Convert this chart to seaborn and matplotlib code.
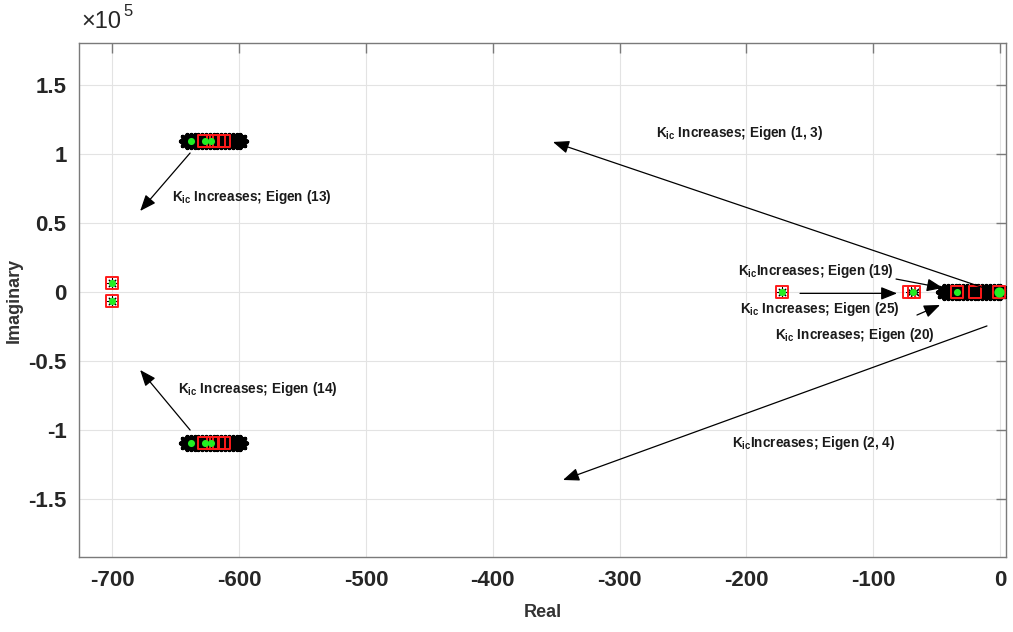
import matplotlib
matplotlib.use("Agg")
import matplotlib.pyplot as plt
import seaborn as sns
import pandas as pd

# ---- eigenvalue loci (real part, imaginary part) ----
# dense locus traces drawn as heavy asterisks
band_real = [-641, -638, -635, -632, -629, -626, -623, -620, -617, -614, -611, -608, -605, -602, -599,
             -641, -638, -635, -632, -629, -626, -623, -620, -617, -614, -611, -608, -605, -602, -599,
             -44, -41, -38, -35, -32, -29, -26, -23, -20, -17, -14, -11, -8, -5, -2, 0]
band_imag = [109400] * 15 + [-109400] * 15 + [0] * 16

# isolated eigenvalues (light asterisks)
single_real = [-700, -700, -172, -70, -67]
single_imag = [6200, -6200, 0, 0, 0]

# highlighted eigenvalues (red squares)
square_real = [-628, -620.5, -615.5, -611.5, -628, -620.5, -615.5, -611.5,
               -700, -700, -172, -71.5, -67.5, -34, -19.5, -1.2]
square_imag = [109400, 109400, 109400, 109400, -109400, -109400, -109400, -109400,
               6200, -6200, 0, 0, 0, 0, 0, 0]

# starting eigenvalues (green dots)
start_real = [-637.8, -627, -622, -637.8, -627, -622, -700, -700, -172, -69, -34]
start_imag = [109400, 109400, 109400, -109400, -109400, -109400, 6200, -6200, 0, 0, 0]
origin_real = [-1]
origin_imag = [0]

# ---- annotations ----
labels = [r"$K_{ic}$ Increases; Eigen (1, 3)",
          r"$K_{ic}$ Increases; Eigen (13)",
          r"$K_{ic}$ Increases; Eigen (14)",
          r"$K_{ic}$Increases; Eigen (19)",
          r"$K_{ic}$ Increases; Eigen (25)",
          r"$K_{ic}$ Increases; Eigen (20)",
          r"$K_{ic}$Increases; Eigen (2, 4)"]
label_real = [-205, -589.8, -585, -145, -142, -114.5, -147]
label_imag = [115200, 68800, -70300, 15200, -12300, -31000, -109400]

arrow_from_real = [-8, -638.6, -638.6, -82, -157.7, -65.5, -10.3]
arrow_from_imag = [1500, 100700, -100000, 9400, -1000, -16700, -24600]
arrow_to_real = [-352.5, -678, -678, -45, -81.2, -47.3, -344.6]
arrow_to_imag = [108700, 58700, -56500, 2900, -1000, -9400, -136200]

x_ticks = [-700, -600, -500, -400, -300, -200, -100, 0]
y_ticks = [-150000, -100000, -50000, 0, 50000, 100000, 150000]
y_tick_labels = ["-1.5", "-1", "-0.5", "0", "0.5", "1", "1.5"]

sns.set_style("white")
plt.rcParams["font.family"] = ["Liberation Sans", "DejaVu Sans"]
plt.rcParams["font.weight"] = "bold"
plt.rcParams["axes.unicode_minus"] = False
plt.rcParams["mathtext.fontset"] = "custom"
plt.rcParams["mathtext.rm"] = "Liberation Sans:bold"
plt.rcParams["mathtext.it"] = "Liberation Sans:bold"
plt.rcParams["mathtext.bf"] = "Liberation Sans:bold"

fig = plt.figure(figsize=(10.13, 6.32), dpi=100)
ax = fig.add_axes([79 / 1013, 1 - 557 / 632, (1006 - 79) / 1013, (557 - 43) / 632])

band = pd.DataFrame({"Real": band_real, "Imag": band_imag})
single = pd.DataFrame({"Real": single_real, "Imag": single_imag})
squares = pd.DataFrame({"Real": square_real, "Imag": square_imag})
starts = pd.DataFrame({"Real": start_real, "Imag": start_imag})
origin = pd.DataFrame({"Real": origin_real, "Imag": origin_imag})

asterisk = (8, 2, 0)
sns.scatterplot(data=band, x="Real", y="Imag", marker=asterisk, s=90,
                color="black", edgecolor="black", linewidth=3.0, ax=ax, zorder=3)
sns.scatterplot(data=single, x="Real", y="Imag", marker=asterisk, s=45,
                color="black", edgecolor="black", linewidth=0.8, ax=ax, zorder=3)
sns.scatterplot(data=squares, x="Real", y="Imag", marker="s", s=75,
                facecolor="none", edgecolor="#ff1a1a", linewidth=1.4, ax=ax, zorder=4)
sns.scatterplot(data=starts, x="Real", y="Imag", marker="o", s=26,
                color="#22ee22", edgecolor="#22ee22", linewidth=0, ax=ax, zorder=5)
sns.scatterplot(data=origin, x="Real", y="Imag", marker="o", s=55,
                color="#22ee22", edgecolor="#22ee22", linewidth=0, ax=ax, zorder=5)

for xs, ys, xe, ye in zip(arrow_from_real, arrow_from_imag, arrow_to_real, arrow_to_imag):
    ax.annotate("", xy=(xe, ye), xytext=(xs, ys),
                arrowprops=dict(arrowstyle="-|>,head_length=0.7,head_width=0.28",
                                color="black", lw=0.9, shrinkA=0, shrinkB=0,
                                mutation_scale=14), zorder=6)

for text, xr, yi in zip(labels, label_real, label_imag):
    ax.text(xr, yi, text, ha="center", va="center", fontsize=9.8,
            fontweight="bold", color="#1a1a1a", zorder=7)

ax.set_xlim(-726.2, 4.7)
ax.set_ylim(-192000, 180400)
ax.set_xticks(x_ticks)
ax.set_xticklabels([str(v) for v in x_ticks])
ax.set_yticks(y_ticks)
ax.set_yticklabels(y_tick_labels)
ax.grid(True, color="#e3e3e3", linewidth=0.8)
ax.set_axisbelow(True)
ax.tick_params(direction="in", length=7, width=1, color="#7a7a7a",
               labelsize=16, labelcolor="#262626", top=True, right=True,
               pad=9)
for lab in ax.get_xticklabels() + ax.get_yticklabels():
    lab.set_fontweight("bold")
for sp in ax.spines.values():
    sp.set_color("#7a7a7a")
    sp.set_linewidth(1)

ax.set_xlabel("Real", fontsize=13, fontweight="bold", color="#333333", labelpad=10)
ax.set_ylabel("Imaginary", fontsize=13, fontweight="bold", color="#333333", labelpad=4)

# exponent of the imaginary axis
fig.text(81 / 1013, 1 - 22 / 632, "\u00d710", fontsize=17, fontweight="normal",
         color="#262626", ha="left", va="center")
fig.text(123 / 1013, 1 - 11 / 632, "5", fontsize=12, fontweight="normal",
         color="#262626", ha="left", va="center")

fig.savefig("out.png", dpi=100)
